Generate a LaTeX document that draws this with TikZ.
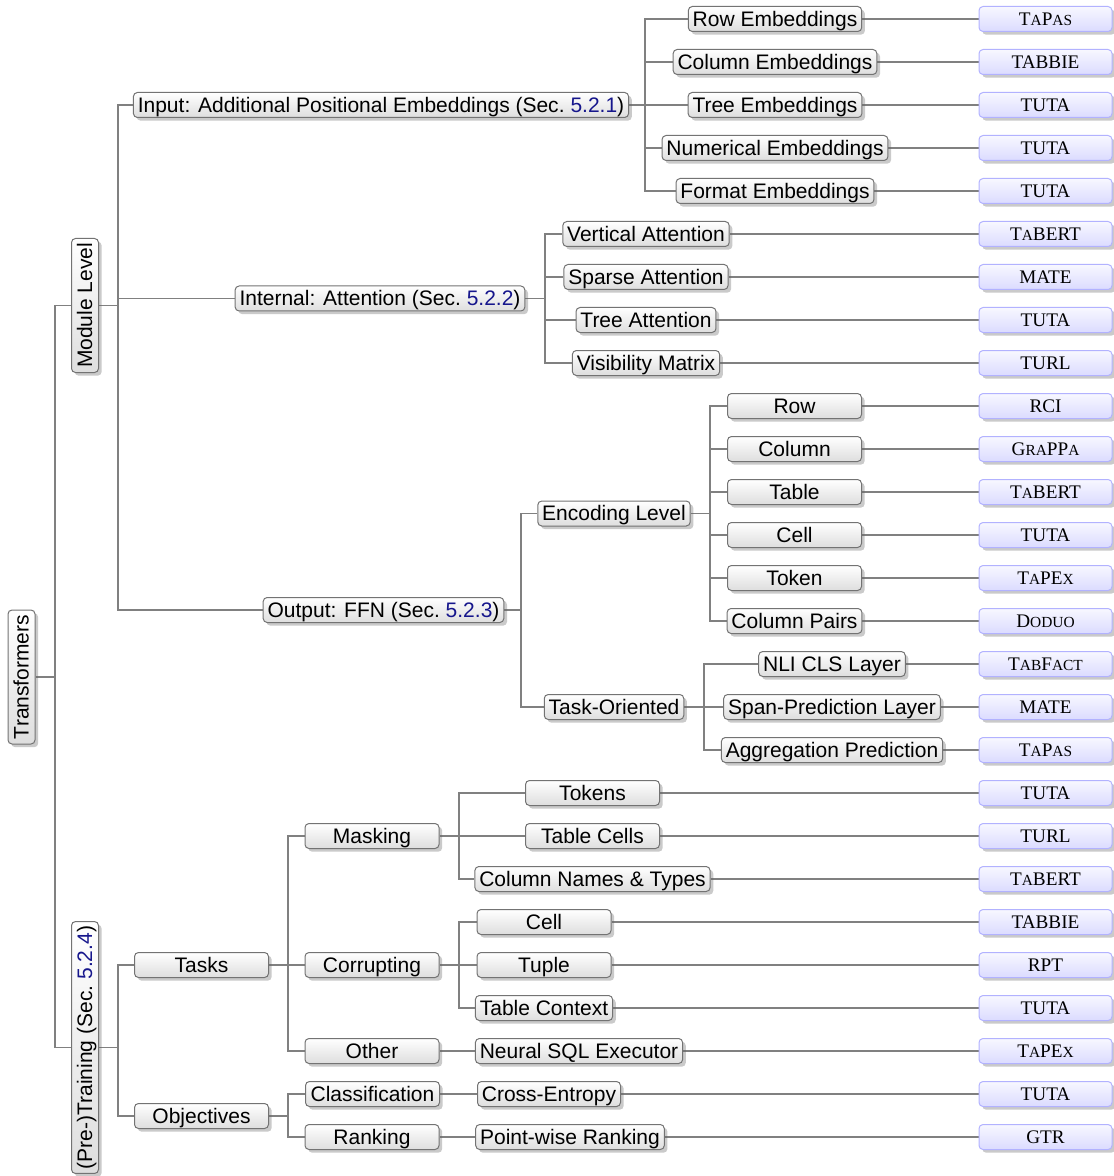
\documentclass[tikz,border=0pt]{standalone}
\usepackage{fontspec}
\setmainfont{Liberation Serif}
\setsansfont{Liberation Sans}
\usetikzlibrary{shadows}
\definecolor{secblue}{RGB}{22,22,140}
\newcommand{\smc}[1]{{\fontsize{7.7}{9}\selectfont #1}}
\newcommand{\sref}[1]{\textcolor{secblue}{#1}}
\pgfdeclarelayer{bg}
\pgfsetlayers{bg,main}
\tikzset{
  box/.style={draw=black!55, line width=0.5pt, rounded corners=2pt,
    top color=white, bottom color=black!13,
    drop shadow={shadow xshift=1.6pt, shadow yshift=-1.6pt, opacity=0.35, fill=black!60},
    font=\fontsize{10.5}{12}\sffamily, inner xsep=2.2pt, inner ysep=1pt,
    text height=8.8pt, text depth=1.7pt, minimum width=67pt, minimum height=12.5pt},
  vbox/.style={box, rotate=90, minimum height=13.5pt},
  leaf/.style={draw=blue!30, line width=0.5pt, rounded corners=2pt,
    top color=blue!3, bottom color=blue!14,
    drop shadow={shadow xshift=1.6pt, shadow yshift=-1.6pt, opacity=0.35, fill=black!60},
    font=\fontsize{9.6}{11}\rmfamily, inner xsep=2pt, inner ysep=0pt,
    text height=6.6pt, text depth=0pt, minimum width=66.5pt, minimum height=12.5pt},
  link/.style={draw=black!50, line width=0.6pt},
}
\begin{document}
\begin{tikzpicture}[x=0.5pt,y=-0.5pt]
\useasboundingbox (0,0) rectangle (1113,1176);

% ---- level 0/1
\node[vbox] (root) at (21.5,677) {Transformers};
\node[vbox] (ml) at (85,305.5) {Module Level};
\node[vbox] (pt) at (85,1047.5) {(Pre-)Training (Sec.~\sref{5.2.4})};

% ---- module level branch
\node[box] (in) at (381,105) {Input: Additional Positional Embeddings (Sec.~\sref{5.2.1})};
\node[box] (int) at (380,298.5) {Internal: Attention (Sec.~\sref{5.2.2})};
\node[box] (out) at (383.5,610) {Output: FFN (Sec.~\sref{5.2.3})};

\node[box] (n0) at (775,19) {Row Embeddings};
\node[box] (n1) at (775,62) {Column Embeddings};
\node[box] (n2) at (775,105) {Tree Embeddings};
\node[box] (n3) at (775,148) {Numerical Embeddings};
\node[box] (n4) at (775,191) {Format Embeddings};

\node[box] (n5) at (646,234) {Vertical Attention};
\node[box] (n6) at (646,277) {Sparse Attention};
\node[box] (n7) at (646,320) {Tree Attention};
\node[box] (n8) at (646,363) {Visibility Matrix};

\node[box] (enc) at (614,513.5) {Encoding Level};
\node[box] (tor) at (614,707) {Task-Oriented};

\node[box] (n9) at (794.5,406) {Row};
\node[box] (n10) at (794.5,449) {Column};
\node[box] (n11) at (794.5,492) {Table};
\node[box] (n12) at (794.5,535) {Cell};
\node[box] (n13) at (794.5,578) {Token};
\node[box] (n14) at (794.5,621) {Column Pairs};

\node[box] (n15) at (832,664) {NLI CLS Layer};
\node[box] (n16) at (832,707) {Span-Prediction Layer};
\node[box] (n17) at (832,750) {Aggregation Prediction};

% ---- pre-training branch
\node[box] (tasks) at (201.5,965) {Tasks};
\node[box] (obj) at (201.5,1116) {Objectives};

\node[box] (mask) at (372,836) {Masking};
\node[box] (corr) at (372,965) {Corrupting};
\node[box] (oth) at (372,1051) {Other};
\node[box] (cls) at (372.5,1094) {Classification};
\node[box] (rank) at (372,1137) {Ranking};

\node[box] (n18) at (592.5,793) {Tokens};
\node[box] (n19) at (592.5,836) {Table Cells};
\node[box] (n20) at (592.5,879) {Column Names \& Types};
\node[box] (n21) at (544,922) {Cell};
\node[box] (n22) at (544,965) {Tuple};
\node[box] (n23) at (544,1008) {Table Context};
\node[box] (n24) at (579,1051) {Neural SQL Executor};
\node[box] (n25) at (549,1094) {Cross-Entropy};
\node[box] (n26) at (570,1137) {Point-wise Ranking};

% ---- leaves
\node[leaf] (l0) at (1045.5,19) {T\smc{A}P\smc{AS}};
\node[leaf] (l1) at (1045.5,62) {TABBIE};
\node[leaf] (l2) at (1045.5,105) {TUTA};
\node[leaf] (l3) at (1045.5,148) {TUTA};
\node[leaf] (l4) at (1045.5,191) {TUTA};
\node[leaf] (l5) at (1045.5,234) {T\smc{A}BERT};
\node[leaf] (l6) at (1045.5,277) {MATE};
\node[leaf] (l7) at (1045.5,320) {TUTA};
\node[leaf] (l8) at (1045.5,363) {TURL};
\node[leaf] (l9) at (1045.5,406) {RCI};
\node[leaf] (l10) at (1045.5,449) {G\smc{RA}PP\smc{A}};
\node[leaf] (l11) at (1045.5,492) {T\smc{A}BERT};
\node[leaf] (l12) at (1045.5,535) {TUTA};
\node[leaf] (l13) at (1045.5,578) {T\smc{A}PE\smc{X}};
\node[leaf] (l14) at (1045.5,621) {D\smc{ODUO}};
\node[leaf] (l15) at (1045.5,664) {T\smc{AB}F\smc{ACT}};
\node[leaf] (l16) at (1045.5,707) {MATE};
\node[leaf] (l17) at (1045.5,750) {T\smc{A}P\smc{AS}};
\node[leaf] (l18) at (1045.5,793) {TUTA};
\node[leaf] (l19) at (1045.5,836) {TURL};
\node[leaf] (l20) at (1045.5,879) {T\smc{A}BERT};
\node[leaf] (l21) at (1045.5,922) {TABBIE};
\node[leaf] (l22) at (1045.5,965) {RPT};
\node[leaf] (l23) at (1045.5,1008) {TUTA};
\node[leaf] (l24) at (1045.5,1051) {T\smc{A}PE\smc{X}};
\node[leaf] (l25) at (1045.5,1094) {TUTA};
\node[leaf] (l26) at (1045.5,1137) {GTR};

% ---- fork points
\coordinate (f-root) at (55,677);
\coordinate (f-ml) at (118,305.5);
\coordinate (f-pt) at (118,1047.5);
\coordinate (f-in) at (645,105);
\coordinate (f-int) at (545,298.5);
\coordinate (f-out) at (521,610);
\coordinate (f-enc) at (710,513.5);
\coordinate (f-tor) at (704,707);
\coordinate (f-tasks) at (288,965);
\coordinate (f-obj) at (288,1116);
\coordinate (f-mask) at (459,836);
\coordinate (f-corr) at (459,965);

\begin{pgfonlayer}{bg}
\draw[link] (root.south) -- (f-root);
\draw[link] (f-root) |- (ml.north);
\draw[link] (f-root) |- (pt.north);

\draw[link] (ml.south) -- (f-ml);
\foreach \c in {in,int,out} \draw[link] (f-ml) |- (\c.west);
\draw[link] (pt.south) -- (f-pt);
\foreach \c in {tasks,obj} \draw[link] (f-pt) |- (\c.west);

\draw[link] (in.east) -- (f-in);
\foreach \c in {n0,n1,n2,n3,n4} \draw[link] (f-in) |- (\c.west);
\draw[link] (int.east) -- (f-int);
\foreach \c in {n5,n6,n7,n8} \draw[link] (f-int) |- (\c.west);
\draw[link] (out.east) -- (f-out);
\foreach \c in {enc,tor} \draw[link] (f-out) |- (\c.west);
\draw[link] (enc.east) -- (f-enc);
\foreach \c in {n9,n10,n11,n12,n13,n14} \draw[link] (f-enc) |- (\c.west);
\draw[link] (tor.east) -- (f-tor);
\foreach \c in {n15,n16,n17} \draw[link] (f-tor) |- (\c.west);

\draw[link] (tasks.east) -- (f-tasks);
\foreach \c in {mask,corr,oth} \draw[link] (f-tasks) |- (\c.west);
\draw[link] (obj.east) -- (f-obj);
\foreach \c in {cls,rank} \draw[link] (f-obj) |- (\c.west);
\draw[link] (mask.east) -- (f-mask);
\foreach \c in {n18,n19,n20} \draw[link] (f-mask) |- (\c.west);
\draw[link] (corr.east) -- (f-corr);
\foreach \c in {n21,n22,n23} \draw[link] (f-corr) |- (\c.west);
\draw[link] (oth.east) -- (n24.west);
\draw[link] (cls.east) -- (n25.west);
\draw[link] (rank.east) -- (n26.west);

\foreach \i in {0,...,26} \draw[link] (n\i.east) -- (l\i.west);
\end{pgfonlayer}
\end{tikzpicture}
\end{document}
